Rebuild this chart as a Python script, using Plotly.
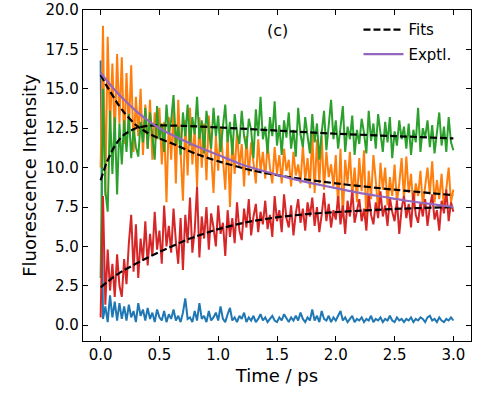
import numpy as np
import plotly.graph_objects as go

# ---- data ----
time = np.linspace(0, 3, 151)  # ps, 0.02 ps sampling

blue = [16.8, 0.4, 1.2, 0.2, 1.9, 0.5, 1.5, 0.3, 1.4, 0.4,
        1.2, 0.3, 1.3, 0.5, 0.9, 0.2, 1.4, 0.6, 1.0, 0.3,
        1.1, 0.4, 0.8, 0.2, 1.0, 0.5, 0.3, 0.9, 0.2, 0.7,
        0.4, 1.0, 0.3, 0.6, 0.2, 0.8, 1.7, 0.4, 0.5, 0.2,
        0.9, 0.3, 1.4, 0.4, 0.6, 0.2, 0.9, 0.3, 0.5, 0.8,
        0.3, 1.2, 0.4, 0.2, 0.7, 1.1, 0.3, 0.5, 0.2, 0.6,
        0.4, 0.8, 0.2, 0.5, 0.3, 0.6, 0.2, 0.4, 0.7, 0.3,
        0.5, 0.2, 0.4, 0.6, 0.3, 0.2, 0.5, 0.3, 0.7, 0.4,
        0.2, 0.5, 0.3, 0.6, 0.3, 0.8, 0.4, 0.2, 0.5, 0.3,
        1.0, 0.3, 0.6, 0.2, 0.9, 0.4, 0.3, 0.6, 0.2, 0.5,
        0.3, 0.6, 0.9, 0.3, 0.5, 0.2, 0.4, 0.6, 0.2, 0.4,
        0.3, 0.5, 0.2, 0.4, 0.3, 0.6, 0.2, 0.4, 0.3, 0.5,
        0.2, 0.4, 0.3, 0.6, 0.3, 0.2, 0.5, 0.3, 0.4, 0.2,
        0.4, 0.3, 0.5, 0.2, 0.4, 0.3, 0.5, 0.4, 0.2, 0.5,
        0.6, 0.3, 0.4, 0.2, 0.5, 0.3, 0.2, 0.4, 0.3, 0.5,
        0.3]

orange = [10.0, 19.0, 8.2, 18.3, 12.5, 16.6, 11.8, 17.2, 12.8, 17.0,
          11.5, 16.0, 12.3, 16.5, 11.0, 14.5, 12.0, 15.0, 10.8, 14.0,
          11.2, 14.3, 10.5, 13.5, 11.8, 13.8, 10.2, 12.9, 7.8, 13.2,
          10.5, 13.6, 9.0, 14.3, 11.0, 7.9, 13.0, 9.5, 13.8, 10.2,
          12.5, 8.8, 13.2, 10.0, 12.8, 9.2, 13.3, 11.0, 8.4, 12.0,
          9.8, 12.6, 10.5, 8.6, 12.2, 7.5, 11.8, 9.6, 12.4, 10.0,
          11.5, 8.8, 12.0, 9.5, 11.6, 10.2, 9.0, 11.8, 9.8, 11.0,
          9.3, 11.5, 10.0, 9.0, 11.3, 9.6, 10.8, 9.0, 11.2, 9.8,
          10.5, 8.8, 11.0, 9.5, 10.2, 9.0, 11.4, 9.2, 10.6, 8.7,
          12.2, 8.4, 11.8, 9.0, 12.0, 8.6, 11.0, 9.4, 10.2, 8.8,
          10.8, 7.5, 11.2, 6.8, 10.5, 9.0, 11.0, 8.2, 10.0, 7.8,
          10.6, 8.5, 11.1, 6.5, 9.8, 8.0, 10.8, 9.2, 7.2, 10.3,
          8.6, 10.0, 7.6, 9.4, 8.2, 10.2, 7.8, 9.0, 10.6, 8.0,
          10.7, 8.4, 9.6, 7.4, 9.0, 8.2, 9.8, 7.6, 8.8, 10.0,
          8.3, 10.4, 7.8, 9.2, 8.0, 9.6, 7.3, 8.8, 10.0, 7.8,
          8.6]

green = [3.0, 15.0, 8.5, 7.2, 13.6, 9.6, 13.2, 8.3, 12.8, 10.2,
         13.0, 11.0, 13.4, 10.6, 12.5, 11.3, 10.7, 12.9, 11.6, 13.8,
         11.2, 13.5, 12.0, 10.5, 13.9, 11.8, 12.8, 11.0, 14.0, 12.2,
         13.0, 14.6, 11.5, 12.6, 10.8, 13.5, 12.0, 14.0, 11.4, 13.2,
         12.1, 14.5, 11.8, 13.0, 10.9, 13.6, 12.4, 11.2, 13.8, 12.0,
         13.3, 11.0, 12.6, 14.0, 11.6, 12.9, 10.8, 13.4, 12.2, 11.5,
         13.6, 12.0, 11.2, 13.1, 12.4, 10.6, 13.7, 12.0, 14.5, 11.8,
         12.6, 10.9, 13.2, 12.0, 14.2, 11.4, 12.7, 10.8, 13.0, 11.9,
         13.5, 11.2, 12.4, 10.7, 13.8, 12.1, 11.3, 13.2, 12.0, 10.9,
         13.4, 11.6, 12.8, 10.5, 12.2, 13.6, 11.1, 12.9, 14.3, 11.8,
         13.0, 11.2, 12.5, 13.9, 11.0, 12.6, 11.8, 13.3, 10.8, 12.4,
         11.5, 13.1, 12.2, 10.9, 13.6, 11.7, 12.8, 11.2, 13.4, 12.0,
         11.0, 12.9, 11.6, 13.2, 10.6, 12.3, 11.4, 13.0, 11.8, 12.6,
         11.2, 12.8, 10.8, 12.4, 11.6, 13.8, 11.0, 12.5, 11.9, 13.0,
         11.3, 12.7, 10.9, 12.2, 13.5, 11.4, 12.6, 11.0, 13.2, 11.6,
         11.1]

red = [0.5, 8.2, 1.3, 4.8, 2.2, 3.9, 1.8, 4.5, 2.5, 1.8,
       4.2, 2.6, 5.2, 7.0, 3.4, 6.4, 3.0, 5.5, 4.1, 6.6,
       3.8, 5.8, 4.4, 7.2, 4.8, 6.0, 3.9, 7.6, 5.0, 6.3,
       4.6, 7.4, 5.3, 3.9, 6.8, 3.5, 7.0, 5.2, 8.1, 4.6,
       6.0, 8.8, 4.3, 6.9, 5.5, 7.5, 4.8, 7.1, 6.2, 5.0,
       7.6, 5.8, 6.5, 4.4, 7.3, 5.6, 6.8, 5.2, 7.8, 6.0,
       5.4, 7.4, 6.2, 8.0, 5.7, 6.9, 7.7, 5.9, 7.2, 6.4,
       7.9, 6.1, 7.0, 5.6, 8.2, 6.6, 7.3, 5.9, 8.3, 6.8,
       6.2, 7.6, 5.7, 7.1, 8.0, 6.5, 7.4, 6.0, 7.8, 6.9,
       8.1, 6.3, 7.5, 5.9, 7.0, 8.4, 6.6, 7.7, 6.2, 7.3,
       6.7, 8.2, 6.4, 7.6, 5.8, 7.9, 6.9, 8.6, 6.5, 7.2,
       8.0, 6.6, 7.4, 6.0, 8.3, 7.0, 6.4, 7.8, 6.8, 8.5,
       6.9, 7.6, 6.3, 8.1, 7.2, 6.6, 7.9, 5.8, 7.4, 8.2,
       6.8, 7.7, 6.2, 8.4, 7.0, 6.5, 7.8, 6.9, 8.0, 6.3,
       7.5, 8.3, 6.7, 7.3, 6.0, 7.9, 7.1, 8.6, 6.6, 7.8,
       7.2]

orange_fit_t = [0, 0.05, 0.1, 0.15, 0.2, 0.3, 0.4, 0.5, 0.65, 0.8, 1.0, 1.3, 1.6, 2.0, 2.5, 3.0]
orange_fit = [15.9, 15.2, 14.6, 14.0, 13.5, 12.7, 12.2, 11.85, 11.4, 10.9, 10.4, 9.8, 9.4, 9.0, 8.6, 8.25]

green_fit_t = [0, 0.05, 0.1, 0.15, 0.2, 0.3, 0.4, 0.5, 0.7, 1.0, 1.5, 2.0, 2.5, 3.0]
green_fit = [9.2, 10.3, 11.1, 11.7, 12.1, 12.5, 12.65, 12.68, 12.65, 12.55, 12.35, 12.15, 12.0, 11.85]

red_fit_t = [0, 0.1, 0.2, 0.39, 0.5, 0.76, 1.0, 1.25, 1.52, 1.75, 2.0, 2.5, 3.0]
red_fit = [2.4, 3.0, 3.5, 4.25, 4.65, 5.5, 6.1, 6.55, 6.87, 7.05, 7.18, 7.38, 7.5]

exptl_t = [0, 0.1, 0.2, 0.3, 0.4, 0.5, 0.6, 0.8, 1.0, 1.2, 1.4, 1.6, 1.8, 2.0, 2.2, 2.4, 2.6, 2.8, 3.0]
exptl = [16.0, 15.1, 14.3, 13.6, 13.0, 12.5, 12.1, 11.4, 10.8, 10.2, 9.75, 9.35, 9.0, 8.7, 8.4, 8.15, 7.9, 7.7, 7.5]

x_ticks = [0.0, 0.5, 1.0, 1.5, 2.0, 2.5, 3.0]
y_ticks = [0.0, 2.5, 5.0, 7.5, 10.0, 12.5, 15.0, 17.5, 20.0]

FONT = "DejaVu Sans"

fig = go.Figure()
for vals, col in [(blue, "#1f77b4"), (orange, "#ff7f0e"), (green, "#2ca02c"), (red, "#d62728")]:
    fig.add_trace(go.Scatter(x=time, y=vals, mode="lines", line=dict(color=col, width=2),
                             showlegend=False, hoverinfo="skip"))

fit_sets = [(orange_fit_t, orange_fit), (green_fit_t, green_fit), (red_fit_t, red_fit)]
for i, (tt, vv) in enumerate(fit_sets):
    fig.add_trace(go.Scatter(x=tt, y=vv, mode="lines", name="Fits", legendgroup="fits",
                             showlegend=(i == 0),
                             line=dict(color="black", width=2.2, dash="7px,3px", shape="spline", smoothing=0.6)))

fig.add_trace(go.Scatter(x=exptl_t, y=exptl, mode="lines", name="Exptl.", legendgroup="exp",
                         line=dict(color="#9467bd", width=2.2, shape="spline", smoothing=0.6)))

axis_common = dict(showline=True, linecolor="black", linewidth=1.3, mirror="ticks",
                   ticks="inside", ticklen=5, tickwidth=1.2, tickcolor="black", automargin=False,
                   showgrid=False, zeroline=False, tickfont=dict(family=FONT, size=15, color="black"))

fig.update_layout(
    width=502, height=394,
    margin=dict(l=83, r=31, t=10, b=53),
    paper_bgcolor="white", plot_bgcolor="white",
    font=dict(family=FONT, color="black"),
    xaxis=dict(range=[-0.15, 3.15], tickvals=x_ticks, ticktext=[f"{v:.1f}" for v in x_ticks],
               title=dict(text="Time / ps", font=dict(family=FONT, size=18), standoff=6),
               **axis_common),
    yaxis=dict(range=[-1, 20], tickvals=y_ticks, ticktext=[f"{v:.1f}" for v in y_ticks],
               title=dict(text="Fluorescence Intensity", font=dict(family=FONT, size=18), standoff=4),
               **axis_common),
    legend=dict(x=0.71, y=0.99, xanchor="left", yanchor="top", bgcolor="rgba(0,0,0,0)",
                font=dict(family=FONT, size=15), tracegroupgap=2, traceorder="grouped",
                itemwidth=40),
    annotations=[dict(text="(c)", xref="paper", yref="paper", x=0.5, y=0.973,
                      showarrow=False, font=dict(family=FONT, size=16))],
)

fig.write_html("out.html", config={"displayModeBar": False},
               post_script="document.body.style.margin='0';document.body.style.padding='0';")
